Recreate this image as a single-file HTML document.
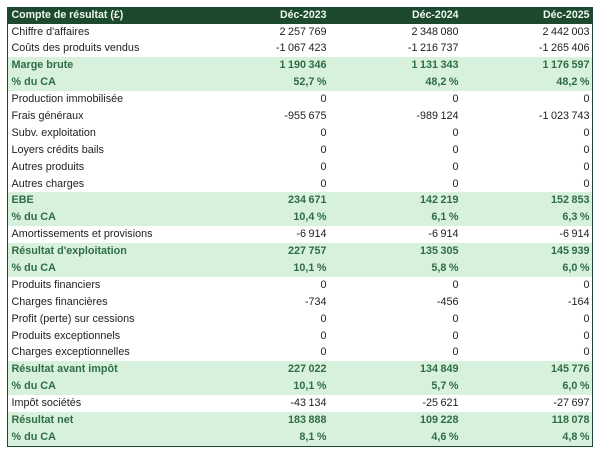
<!DOCTYPE html>
<html><head><meta charset="utf-8"><style>
html,body{margin:0;padding:0;background:#fff;width:600px;height:453px;overflow:hidden}
body{font-family:"Liberation Sans",sans-serif;font-size:10.8px;color:#222}
.t{position:absolute;left:7px;top:7px;width:584px;height:438px;border:1.5px solid #1d4a2e;background:#fff;overflow:hidden}
.r{position:relative;height:16.9px;line-height:16.9px;white-space:nowrap}
.h{height:15.5px;line-height:15.5px;background:#1d4a2e;color:#eef7ee;font-weight:bold;font-size:10.6px}
.g{background:#d8f1dc;color:#2f6d45;font-weight:bold}
.l{position:absolute;left:3.5px;top:0}
.c{position:absolute;top:0;text-align:right;word-spacing:-0.5px}
.h .c{word-spacing:0}
.c1{left:0;width:318.5px}
.c2{left:0;width:450.5px}
.c3{left:0;width:581.5px}
</style></head><body>
<div class="t">
<div class="r h"><span class="l">Compte de résultat (£)</span><span class="c c1">Déc-2023</span><span class="c c2">Déc-2024</span><span class="c c3">Déc-2025</span></div>
<div class="r"><span class="l">Chiffre d'affaires</span><span class="c c1">2 257 769</span><span class="c c2">2 348 080</span><span class="c c3">2 442 003</span></div>
<div class="r"><span class="l">Coûts des produits vendus</span><span class="c c1">-1 067 423</span><span class="c c2">-1 216 737</span><span class="c c3">-1 265 406</span></div>
<div class="r g"><span class="l">Marge brute</span><span class="c c1">1 190 346</span><span class="c c2">1 131 343</span><span class="c c3">1 176 597</span></div>
<div class="r g"><span class="l">% du CA</span><span class="c c1">52,7 %</span><span class="c c2">48,2 %</span><span class="c c3">48,2 %</span></div>
<div class="r"><span class="l">Production immobilisée</span><span class="c c1">0</span><span class="c c2">0</span><span class="c c3">0</span></div>
<div class="r"><span class="l">Frais généraux</span><span class="c c1">-955 675</span><span class="c c2">-989 124</span><span class="c c3">-1 023 743</span></div>
<div class="r"><span class="l">Subv. exploitation</span><span class="c c1">0</span><span class="c c2">0</span><span class="c c3">0</span></div>
<div class="r"><span class="l">Loyers crédits bails</span><span class="c c1">0</span><span class="c c2">0</span><span class="c c3">0</span></div>
<div class="r"><span class="l">Autres produits</span><span class="c c1">0</span><span class="c c2">0</span><span class="c c3">0</span></div>
<div class="r"><span class="l">Autres charges</span><span class="c c1">0</span><span class="c c2">0</span><span class="c c3">0</span></div>
<div class="r g"><span class="l">EBE</span><span class="c c1">234 671</span><span class="c c2">142 219</span><span class="c c3">152 853</span></div>
<div class="r g"><span class="l">% du CA</span><span class="c c1">10,4 %</span><span class="c c2">6,1 %</span><span class="c c3">6,3 %</span></div>
<div class="r"><span class="l">Amortissements et provisions</span><span class="c c1">-6 914</span><span class="c c2">-6 914</span><span class="c c3">-6 914</span></div>
<div class="r g"><span class="l">Résultat d'exploitation</span><span class="c c1">227 757</span><span class="c c2">135 305</span><span class="c c3">145 939</span></div>
<div class="r g"><span class="l">% du CA</span><span class="c c1">10,1 %</span><span class="c c2">5,8 %</span><span class="c c3">6,0 %</span></div>
<div class="r"><span class="l">Produits financiers</span><span class="c c1">0</span><span class="c c2">0</span><span class="c c3">0</span></div>
<div class="r"><span class="l">Charges financières</span><span class="c c1">-734</span><span class="c c2">-456</span><span class="c c3">-164</span></div>
<div class="r"><span class="l">Profit (perte) sur cessions</span><span class="c c1">0</span><span class="c c2">0</span><span class="c c3">0</span></div>
<div class="r"><span class="l">Produits exceptionnels</span><span class="c c1">0</span><span class="c c2">0</span><span class="c c3">0</span></div>
<div class="r"><span class="l">Charges exceptionnelles</span><span class="c c1">0</span><span class="c c2">0</span><span class="c c3">0</span></div>
<div class="r g"><span class="l">Résultat avant impôt</span><span class="c c1">227 022</span><span class="c c2">134 849</span><span class="c c3">145 776</span></div>
<div class="r g"><span class="l">% du CA</span><span class="c c1">10,1 %</span><span class="c c2">5,7 %</span><span class="c c3">6,0 %</span></div>
<div class="r"><span class="l">Impôt sociétés</span><span class="c c1">-43 134</span><span class="c c2">-25 621</span><span class="c c3">-27 697</span></div>
<div class="r g"><span class="l">Résultat net</span><span class="c c1">183 888</span><span class="c c2">109 228</span><span class="c c3">118 078</span></div>
<div class="r g"><span class="l">% du CA</span><span class="c c1">8,1 %</span><span class="c c2">4,6 %</span><span class="c c3">4,8 %</span></div>
</div>
</body></html>
